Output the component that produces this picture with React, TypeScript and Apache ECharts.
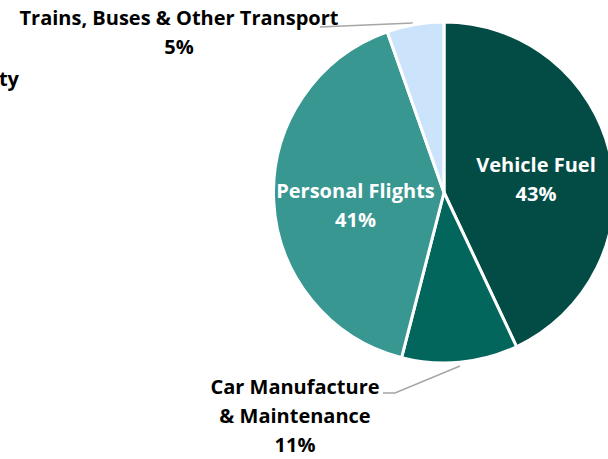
import React, { useEffect, useRef } from "react";
import * as echarts from "echarts";

const categories = ["Vehicle Fuel", "Car Manufacture\n& Maintenance", "Personal Flights", "Trains, Buses & Other Transport"];
const values = [43.0, 11.0, 40.6, 5.4];
const colors = ["#024c45", "#03665d", "#389791", "#cce4fb"];
const insideFlags = [true, false, true, false];
const labelCenters: [number, number][] = [
  [536, 179],
  [295, 415.5],
  [355.5, 205],
  [179, 31.5],
];
const leaderLines: (number[][] | null)[] = [
  null,
  [[460, 366], [395, 393], [383, 393]],
  null,
  [[413, 23], [366, 25], [320, 27]],
];

const FONT = "Open Sans";

export default function App() {
  const ref = useRef<HTMLDivElement>(null);
  useEffect(() => {
    if (!ref.current) return;
    const chart = echarts.init(ref.current, undefined, { renderer: "svg" });
    const data = categories.map((name, i) => ({
      name,
      value: values[i],
      itemStyle: { color: colors[i] },
      label: {
        show: true,
        position: insideFlags[i] ? "inside" : "outside",
        color: insideFlags[i] ? "#ffffff" : "#000000",
      },
      labelLine: {
        show: !insideFlags[i],
        length: 20,
        length2: 20,
        smooth: false,
        lineStyle: { color: "#a6a6a6", width: 1.5 },
      },
    }));
    chart.setOption({
      animation: false,
      backgroundColor: "#ffffff",
      graphic: [
        {
          type: "text",
          x: 19,
          y: 78,
          style: {
            text: "ty",
            font: `bold 20px "${FONT}"`,
            fill: "#000000",
            textAlign: "right",
            textVerticalAlign: "middle",
          },
        },
      ],
      series: [
        {
          type: "pie",
          center: [444, 192.5],
          radius: 170.5,
          startAngle: 90,
          clockwise: true,
          avoidLabelOverlap: false,
          itemStyle: { borderColor: "#ffffff", borderWidth: 3 },
          label: {
            fontFamily: FONT,
            fontWeight: "bold",
            fontSize: 20,
            lineHeight: 29,
            align: "center",
            formatter: (p: any) => `${p.name}\n${Math.round(p.percent)}%`,
          },
          labelLayout: (params: any) => {
            const c = labelCenters[params.dataIndex];
            const pts = leaderLines[params.dataIndex];
            const o: any = { x: c[0], y: c[1], align: "center", verticalAlign: "middle" };
            if (pts) o.labelLinePoints = pts;
            return o;
          },
          emphasis: { disabled: true },
          data,
        },
      ],
    });
    return () => chart.dispose();
  }, []);
  return (
    <div
      ref={ref}
      style={{ position: "fixed", left: 0, top: 0, width: 608, height: 459 }}
    />
  );
}
